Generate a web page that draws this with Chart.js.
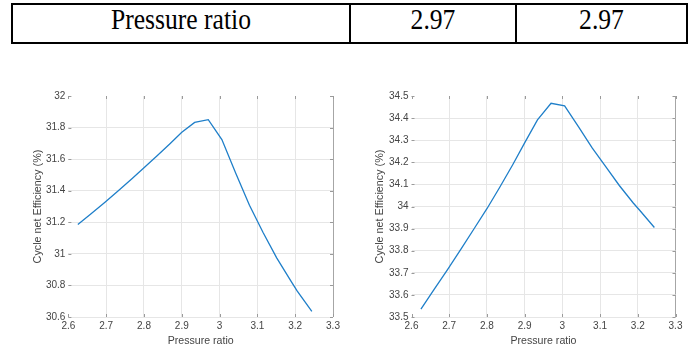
<!DOCTYPE html>
<html>
<head>
<meta charset="utf-8">
<script src="https://cdn.jsdelivr.net/npm/chart.js@4.4.1/dist/chart.umd.min.js"></script>
<style>
  html, body { margin: 0; padding: 0; background: #fff; width: 698px; height: 351px; overflow: hidden; }
  #tbl { position: absolute; left: 11px; top: 3px; width: 677px; height: 41px; box-sizing: border-box; border: 2px solid #000; }
  .cell { position: absolute; top: 0; height: 37px; display: flex; align-items: center; justify-content: center;
          font-family: "Liberation Serif", "Times New Roman", serif; font-size: 25.6px; color: #000; }
  .cell span { display: inline-block; transform: translateY(-4px) scaleY(1.13); transform-origin: 50% 50%; }
  .sep { position: absolute; top: 0; width: 2px; height: 37px; background: #000; }
  .wrap { position: absolute; top: 86px; height: 265px; }
  .wrap canvas { display: block; }
</style>
</head>
<body>
<div id="tbl">
  <div class="cell" style="left:0;width:336px"><span>Pressure ratio</span></div>
  <div class="sep" style="left:336px"></div>
  <div class="cell" style="left:338px;width:164px"><span>2.97</span></div>
  <div class="sep" style="left:502px"></div>
  <div class="cell" style="left:504px;width:169px"><span>2.97</span></div>
</div>
<div class="wrap" style="left:0;width:350px"><canvas id="chartA" width="350" height="265"></canvas></div>
<div class="wrap" style="left:350px;width:348px"><canvas id="chartB" width="348" height="265"></canvas></div>
<script>
// Pressure ratio sweep (shared by both panels)
const pressureRatio = [2.625, 2.66, 2.696, 2.732, 2.768, 2.80, 2.834, 2.868, 2.90, 2.934,
                       2.970, 3.006, 3.043, 3.079, 3.115, 3.151, 3.188, 3.205, 3.244];
// Cycle net efficiency (%), left panel
const efficiencyA = [31.186, 31.254, 31.326, 31.400, 31.476, 31.545, 31.620, 31.696, 31.770, 31.833,
                     31.850, 31.724, 31.509, 31.308, 31.135, 30.975, 30.83, 30.765, 30.635];
// Cycle net efficiency (%), right panel
const efficiencyB = [33.536, 33.625, 33.716, 33.809, 33.905, 33.99, 34.087, 34.188, 34.288, 34.392,
                     34.467, 34.455, 34.36, 34.265, 34.18, 34.095, 34.016, 33.983, 33.905];

const xTickValues = [2.6, 2.7, 2.8, 2.9, 3.0, 3.1, 3.2, 3.3];
const xTickLabels = ['2.6', '2.7', '2.8', '2.9', '3', '3.1', '3.2', '3.3'];
const yTickValuesA = [30.6, 30.8, 31.0, 31.2, 31.4, 31.6, 31.8, 32.0];
const yTickLabelsA = ['30.6', '30.8', '31', '31.2', '31.4', '31.6', '31.8', '32'];
const yTickValuesB = [33.5, 33.6, 33.7, 33.8, 33.9, 34.0, 34.1, 34.2, 34.3, 34.4, 34.5];
const yTickLabelsB = ['33.5', '33.6', '33.7', '33.8', '33.9', '34', '34.1', '34.2', '34.3', '34.4', '34.5'];

const FONT = '"Liberation Sans", Arial, Helvetica, sans-serif';
const TEXT = '#444444';
const GRID = '#e6e6e6';

// small inward tick marks on all four sides of the plot box
const innerTicks = {
  id: 'innerTicks',
  afterDatasetsDraw(chart) {
    const { ctx, chartArea: a, scales: { x, y } } = chart;
    ctx.save();
    ctx.strokeStyle = '#9a9a9a';
    ctx.lineWidth = 1;
    ctx.beginPath();
    x.ticks.forEach(t => {
      const px = Math.round(x.getPixelForValue(t.value)) + 0.5;
      ctx.moveTo(px, a.bottom); ctx.lineTo(px, a.bottom - 3);
      ctx.moveTo(px, a.top); ctx.lineTo(px, a.top + 3);
    });
    y.ticks.forEach(t => {
      const py = Math.round(y.getPixelForValue(t.value)) + 0.5;
      ctx.moveTo(a.left, py); ctx.lineTo(a.left + 3, py);
      ctx.moveTo(a.right, py); ctx.lineTo(a.right - 3, py);
    });
    ctx.stroke();
    ctx.restore();
  }
};

function near(a, b) { return Math.abs(a - b) < 1e-6; }

function makeChart(id, values, yTicks, yLabels, yWidth, padRight, yTitlePad) {
  const yMin = yTicks[0], yMax = yTicks[yTicks.length - 1];
  const xMin = xTickValues[0], xMax = xTickValues[xTickValues.length - 1];
  return new Chart(document.getElementById(id), {
    type: 'line',
    data: {
      datasets: [{
        data: pressureRatio.map((p, i) => ({ x: p, y: values[i] })),
        borderColor: '#1f7fc9',
        borderWidth: 1.3,
        pointRadius: 0,
        tension: 0,
        fill: false
      }]
    },
    options: {
      responsive: false,
      animation: false,
      events: [],
      layout: { padding: { top: 10, right: padRight, left: 0, bottom: 0 } },
      plugins: { legend: { display: false }, tooltip: { enabled: false } },
      scales: {
        x: {
          type: 'linear', min: xMin, max: xMax,
          afterBuildTicks: s => { s.ticks = xTickValues.map(v => ({ value: v })); },
          afterFit: s => { s.height = 34; },
          border: { display: false },
          grid: {
            drawTicks: false,
            lineWidth: 1,
            color: c => near(c.tick.value, xMax) ? '#a6a6a6' : (near(c.tick.value, xMin) ? 'rgba(0,0,0,0)' : GRID)
          },
          ticks: {
            autoSkip: false, maxRotation: 0, padding: 3,
            color: TEXT, font: { family: FONT, size: 10 },
            callback: (v, i) => xTickLabels[i]
          },
          title: {
            display: true, text: 'Pressure ratio', color: TEXT,
            font: { family: FONT, size: 10.6 }, padding: { top: 0, bottom: 3.6 }
          }
        },
        y: {
          type: 'linear', min: yMin, max: yMax,
          afterBuildTicks: s => { s.ticks = yTicks.map(v => ({ value: v })); },
          afterFit: s => { s.width = yWidth; },
          border: { display: false },
          grid: {
            drawTicks: false,
            lineWidth: 1,
            color: c => near(c.tick.value, yMax) ? 'rgba(0,0,0,0)' : GRID
          },
          ticks: {
            autoSkip: false, padding: 3,
            color: TEXT, font: { family: FONT, size: 10 },
            callback: (v, i) => yLabels[i]
          },
          title: {
            display: true, text: 'Cycle net Efficiency (%)', color: TEXT,
            font: { family: FONT, size: 10.8 }, padding: { top: yTitlePad, bottom: 0 }
          }
        }
      }
    },
    plugins: [innerTicks]
  });
}

makeChart('chartA', efficiencyA, yTickValuesA, yTickLabelsA, 68.4, 17, 31.5);
makeChart('chartB', efficiencyB, yTickValuesB, yTickLabelsB, 61.5, 22.5, 23.5);
</script>
</body>
</html>
